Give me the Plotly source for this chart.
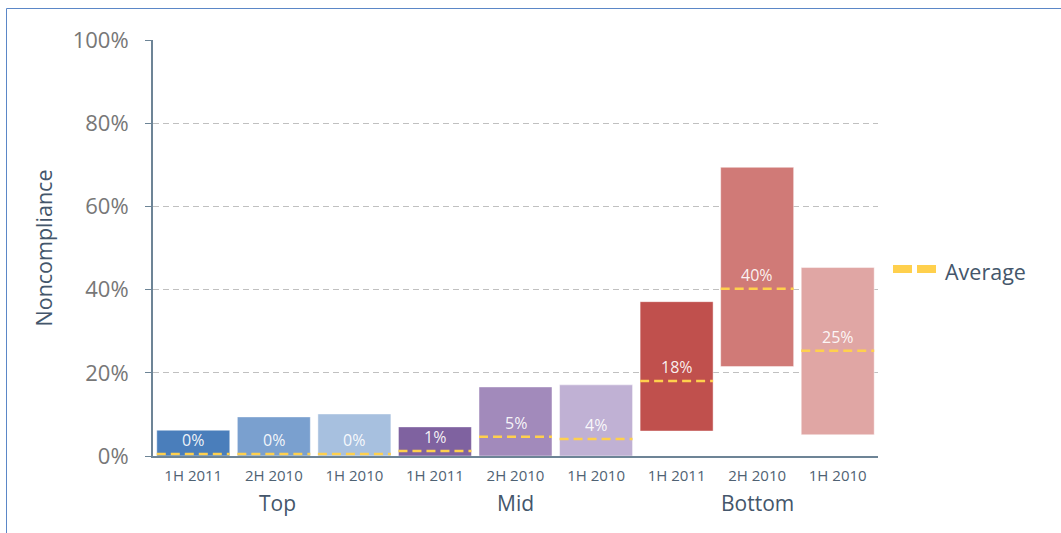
import plotly.graph_objects as go

groups = ["Top", "Mid", "Bottom"]
periods = ["1H 2011", "2H 2010", "1H 2010"] * 3
lows = [0, 0, 0, 0, 0, 0, 6.0, 21.5, 5.1]
highs = [6.2, 9.4, 10.1, 7.0, 16.6, 17.1, 37.1, 69.4, 45.3]
averages = [0.5, 0.5, 0.5, 1.2, 4.6, 4.1, 18.0, 40.2, 25.3]
avg_labels = ["0%", "0%", "0%", "1%", "5%", "4%", "18%", "40%", "25%"]
colors = ["#4a7ebb", "#7aa0cf", "#a7c0df",
          "#7f62a0", "#a28abb", "#c0b1d4",
          "#c0504d", "#d07a77", "#e0a6a4"]
y_ticks = [0, 20, 40, 60, 80, 100]

FONT = "Open Sans"
n = len(periods)
xs = list(range(n))
bargap = 0.094
half = (1 - bargap) / 2

# body margin removed via post_script; plot area target: x 153..878, y 40..456
L, T = 153, 40
PW, PH = 725, 416
W, H = 1061, 533
R = W - L - PW
B = H - T - PH


def px(xp):  # page pixel -> paper x
    return (xp - L) / PW


def py(yp):  # page pixel -> paper y
    return (T + PH - yp) / PH


fig = go.Figure()
fig.add_trace(go.Bar(
    x=xs, y=[h - l for h, l in zip(highs, lows)], base=lows,
    marker=dict(color=colors, line=dict(color="rgba(255,255,255,0.45)", width=1)),
    showlegend=False, hoverinfo="skip",
))

lx, ly = [], []
for i, a in enumerate(averages):
    lx += [i - half, i + half, None]
    ly += [a, a, None]
fig.add_trace(go.Scatter(
    x=lx, y=ly, mode="lines",
    line=dict(color="#FFD04D", width=2.5, dash="9px,5px"),
    showlegend=False, hoverinfo="skip",
))
for i, (a, t) in enumerate(zip(averages, avg_labels)):
    fig.add_annotation(x=i, y=a, xref="x", yref="y", text=t, showarrow=False,
                       yanchor="bottom", yshift=1,
                       font=dict(family=FONT, size=16, color="rgba(255,255,255,0.92)"))

# group labels
for g_i, g in enumerate(groups):
    fig.add_annotation(x=g_i * 3 + 1, y=py(503), xref="x", yref="paper",
                       text=g, showarrow=False, yanchor="middle",
                       xshift=4 if g_i == 0 else 0,
                       font=dict(family=FONT, size=21, color="#44566b"))

# legend (manual)
for x0p in (893, 917):
    fig.add_shape(type="rect", xref="paper", yref="paper",
                  x0=px(x0p), x1=px(x0p + 19),
                  y0=py(265), y1=py(273),
                  fillcolor="#FFD04D", line=dict(width=0))
fig.add_annotation(x=px(943), y=py(271), xref="paper", yref="paper",
                   text="Average", showarrow=False, xanchor="left", yanchor="middle",
                   font=dict(family=FONT, size=21.5, color="#44566b"))

# border lines
fig.add_shape(type="line", xref="paper", yref="paper",
              x0=px(6.5), x1=px(6.5), y0=py(8.5), y1=py(545),
              line=dict(color="#5b87c7", width=1))
fig.add_shape(type="line", xref="paper", yref="paper",
              x0=px(6.5), x1=px(1075), y0=py(8.5), y1=py(8.5),
              line=dict(color="#5b87c7", width=1))

fig.update_layout(
    width=W, height=H,
    margin=dict(l=L, r=R, t=T, b=B),
    paper_bgcolor="white", plot_bgcolor="white",
    bargap=bargap,
    font=dict(family=FONT),
    xaxis=dict(
        range=[-0.5, n - 0.5], tickmode="array", tickvals=xs, ticktext=periods,
        tickfont=dict(family=FONT, size=15, color="#4f6273"),
        ticklabelstandoff=5,
        showline=True, linecolor="#6d8496", linewidth=2,
        showgrid=False, zeroline=False, ticks="",
    ),
    yaxis=dict(
        range=[0, 100], tickmode="array", tickvals=y_ticks,
        ticktext=[f"{v}%" for v in y_ticks],
        tickfont=dict(family=FONT, size=22, color="#777777"),
        ticklabelstandoff=12,
        showline=True, linecolor="#6d8496", linewidth=2,
        ticks="outside", ticklen=6, tickcolor="#6d8496", tickwidth=1,
        showgrid=True, gridcolor="#c0c0c0", griddash="6px,4px", gridwidth=1,
        zeroline=False,
        title=dict(text="Noncompliance", standoff=14,
                   font=dict(family=FONT, size=21.5, color="#44566b")),
    ),
)

fig.write_html("out.html", config={"displayModeBar": False},
               post_script="document.body.style.margin='0';")
